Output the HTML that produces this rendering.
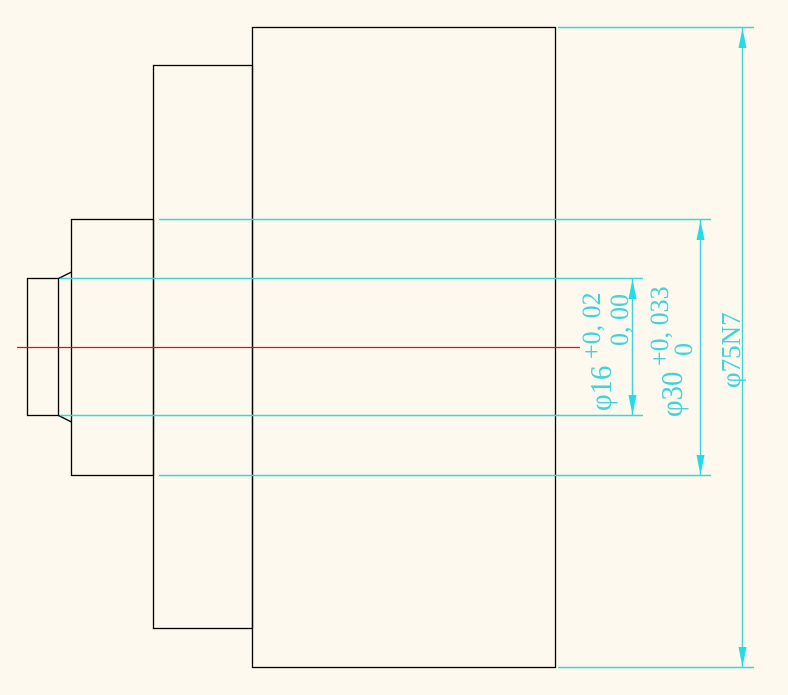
<!DOCTYPE html>
<html><head><meta charset="utf-8"><style>html,body{margin:0;padding:0;background:#fdf9ee}svg{display:block}</style></head>
<body>
<svg width="788" height="695" xmlns="http://www.w3.org/2000/svg">
<rect width="788" height="695" fill="#fdf9ee"/>
<g fill="none" stroke="#000" stroke-width="1.3">
<rect x="27.5" y="278.5" width="31" height="137"/>
<line x1="58.5" y1="278.5" x2="71.5" y2="272"/>
<line x1="58.5" y1="415.5" x2="71.5" y2="422"/>
<rect x="71.5" y="219.5" width="82" height="256"/>
<rect x="153.5" y="65.5" width="99" height="563"/>
<rect x="252.5" y="27.5" width="303" height="640"/>
</g>
<line x1="17" y1="347.5" x2="580" y2="347.5" stroke="#d01818" stroke-width="1.2"/>
<g stroke="#3fd3dc" stroke-width="1.4">
<line x1="159" y1="219.5" x2="711" y2="219.5"/>
<line x1="159" y1="475.5" x2="711" y2="475.5"/>
<line x1="60" y1="278.5" x2="643" y2="278.5"/>
<line x1="60" y1="415.5" x2="643" y2="415.5"/>
<line x1="558" y1="27.5" x2="754" y2="27.5"/>
<line x1="558" y1="667.5" x2="754" y2="667.5"/>
<line x1="632.5" y1="278" x2="632.5" y2="415"/>
<line x1="700.5" y1="219" x2="700.5" y2="475"/>
<line x1="742.5" y1="27" x2="742.5" y2="667"/>
</g>
<g fill="#22dde8">
<polygon points="632.5,279 628.5,299 636.5,299"/>
<polygon points="632.5,415 628.5,395 636.5,395"/>
<polygon points="700.5,220 696.5,240 704.5,240"/>
<polygon points="700.5,475 696.5,455 704.5,455"/>
<polygon points="742.5,28 738.5,48 746.5,48"/>
<polygon points="742.5,667 738.5,647 746.5,647"/>
</g>
<g fill="#3fd3dc" font-family="Liberation Serif, serif">
<text transform="translate(611,411) rotate(-90) scale(0.93,1)" font-size="31">φ16</text>
<text transform="translate(600,359) rotate(-90)" font-size="26">+0, 02</text>
<text transform="translate(628,346) rotate(-90)" font-size="26">0, 00</text>
<text transform="translate(682,417) rotate(-90) scale(0.93,1)" font-size="31">φ30</text>
<text transform="translate(668,366) rotate(-90)" font-size="26">+0, 033</text>
<text transform="translate(692,356) rotate(-90)" font-size="26">0</text>
<text transform="translate(740,388) rotate(-90)" font-size="27">φ75N7</text>
</g>
</svg>
</body></html>
